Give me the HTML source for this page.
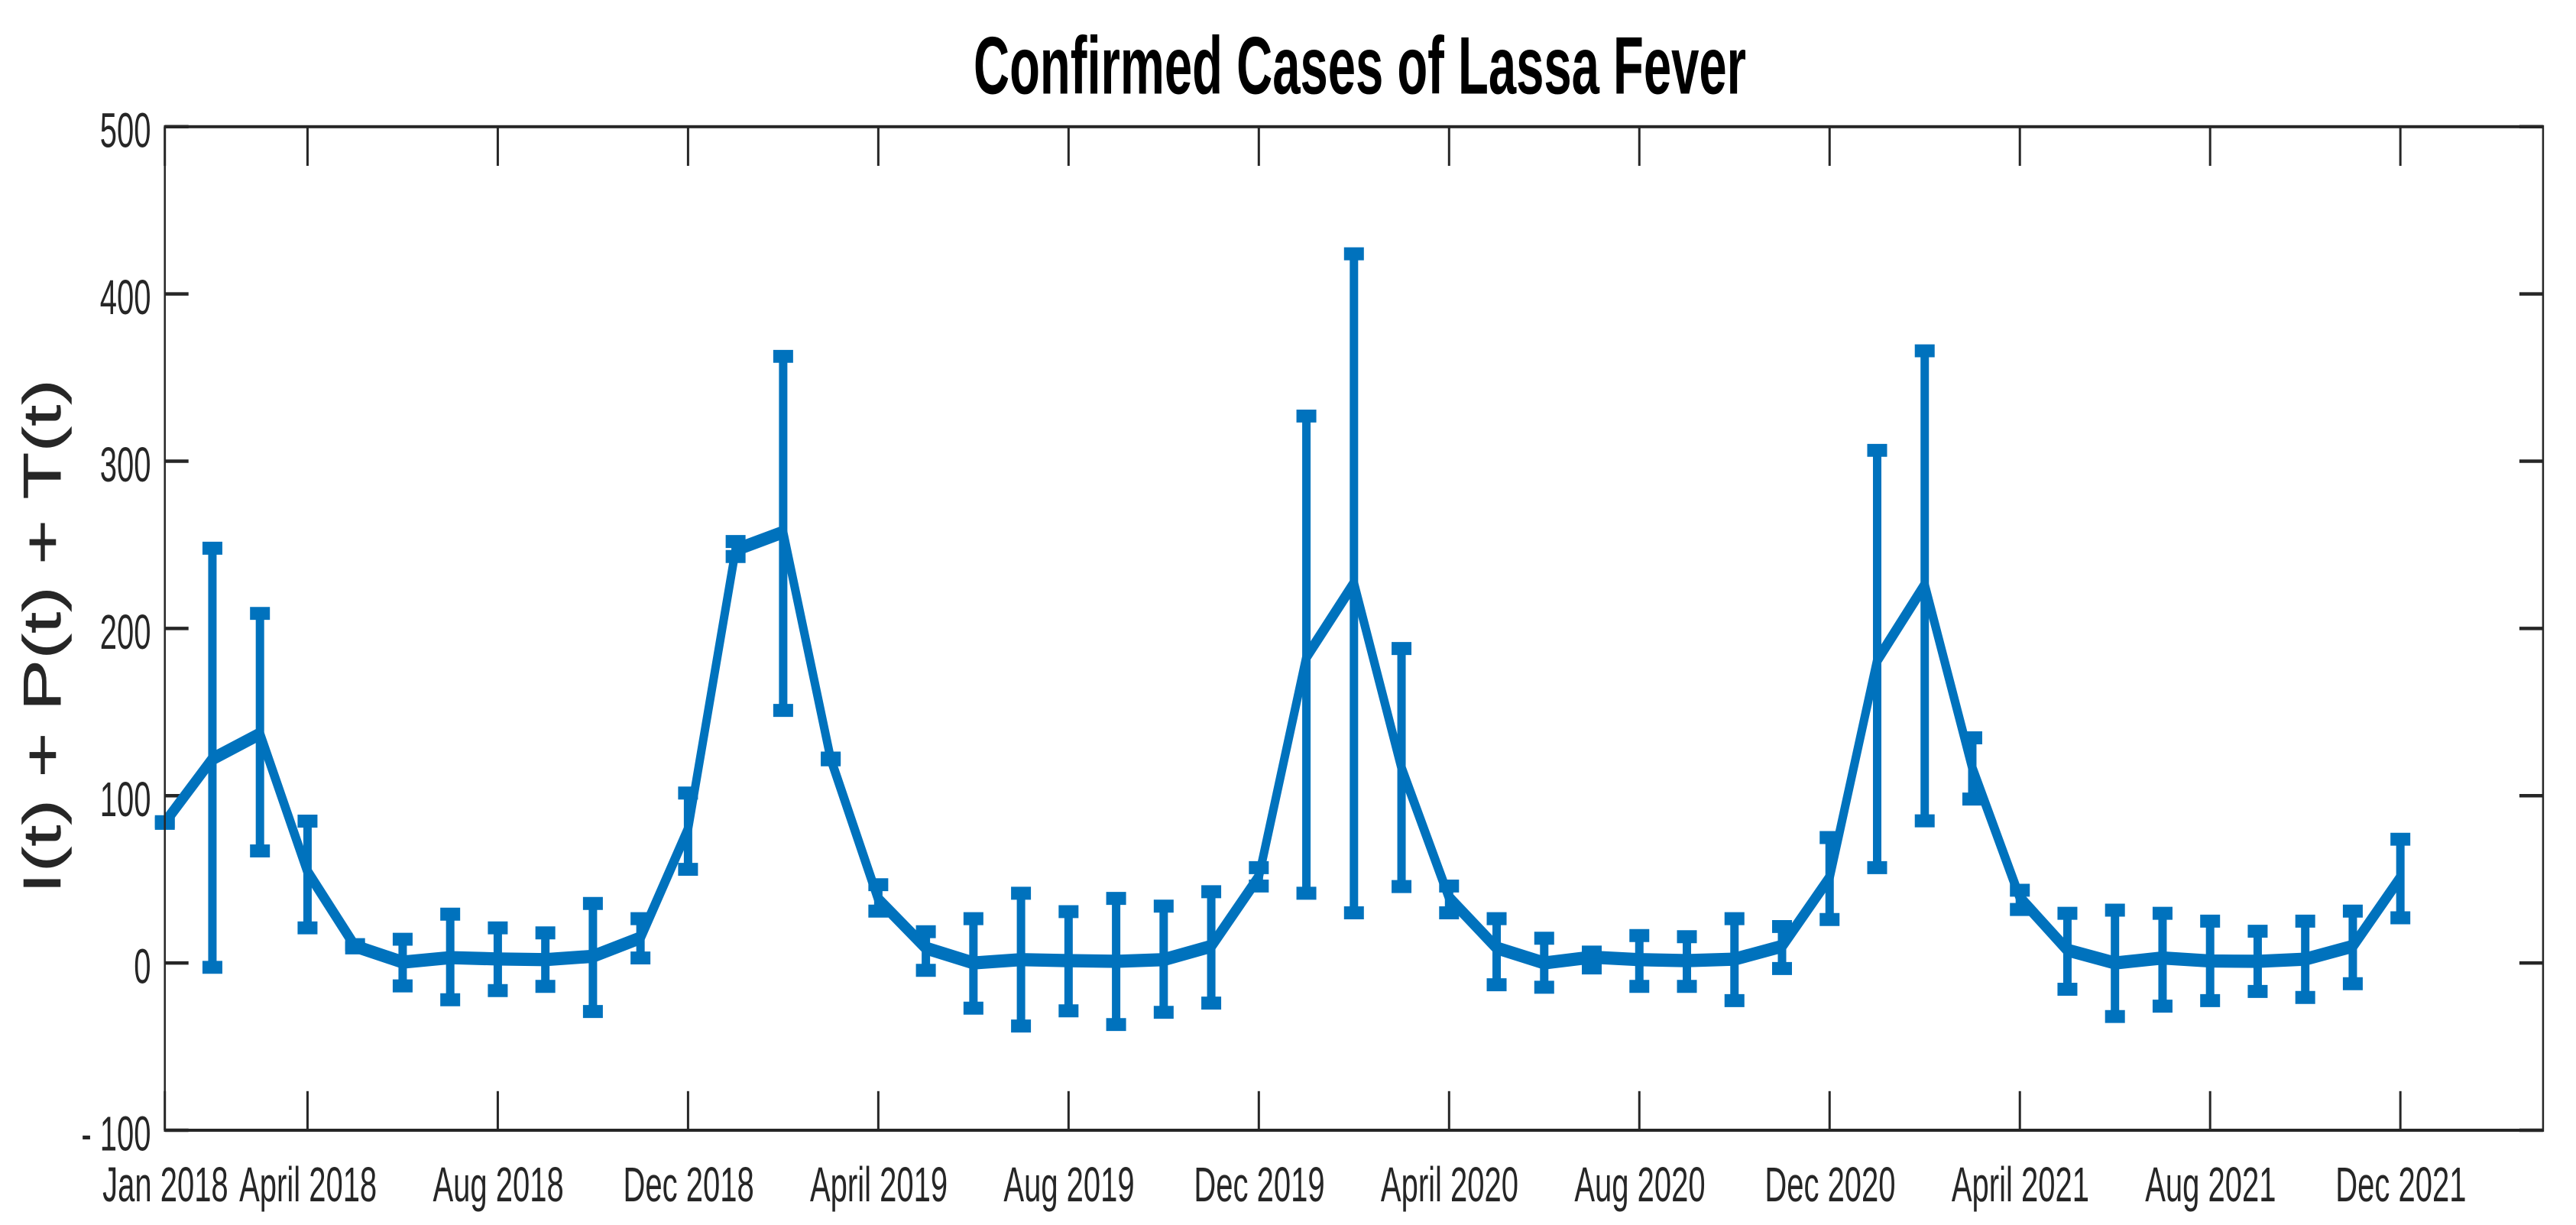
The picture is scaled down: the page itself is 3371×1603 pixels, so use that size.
<!DOCTYPE html>
<html lang="en">
<head>
<meta charset="utf-8">
<title>Confirmed Cases of Lassa Fever</title>
<style>
html,body{margin:0;padding:0;background:#fff;width:3371px;height:1603px;overflow:hidden}
svg{display:block}
text{font-family:"Liberation Sans",Arial,sans-serif;fill:#262626}
</style>
</head>
<body>
<svg id="chart" xmlns="http://www.w3.org/2000/svg" width="3371" height="1603" viewBox="0 0 3371 1001.875" preserveAspectRatio="none">
  <rect x="0" y="0" width="3371" height="1001.875" fill="#ffffff"/>
  <g id="ticks"></g>
  <g id="series"></g>
  <rect id="axes-box" fill="none" stroke="#262626" stroke-width="2.5"/>
  <text x="1779.5" y="76.7" text-anchor="middle" font-size="67" font-weight="700" textLength="1011" lengthAdjust="spacingAndGlyphs" style="fill:#000">Confirmed Cases of Lassa Fever</text>
  <text transform="translate(79,520.5) rotate(-90)" x="0" y="0" text-anchor="middle" font-size="70" textLength="421" lengthAdjust="spacingAndGlyphs" style="stroke:#262626;stroke-width:0.5">I(t) + P(t) + T(t)</text>
  <g id="labels"></g>
</svg>
<script>
// Chart data
const months = ["Jan 2018","Feb 2018","Mar 2018","Apr 2018","May 2018","Jun 2018","Jul 2018","Aug 2018","Sep 2018","Oct 2018","Nov 2018","Dec 2018",
  "Jan 2019","Feb 2019","Mar 2019","Apr 2019","May 2019","Jun 2019","Jul 2019","Aug 2019","Sep 2019","Oct 2019","Nov 2019","Dec 2019",
  "Jan 2020","Feb 2020","Mar 2020","Apr 2020","May 2020","Jun 2020","Jul 2020","Aug 2020","Sep 2020","Oct 2020","Nov 2020","Dec 2020",
  "Jan 2021","Feb 2021","Mar 2021","Apr 2021","May 2021","Jun 2021","Jul 2021","Aug 2021","Sep 2021","Oct 2021","Nov 2021","Dec 2021"];
const meanValues = [84,122,137,54.5,10,0.5,3.2,2.4,2,4,15,80,
  247,257.6,122,38,8.9,0,2,1.4,1,2,10,51.5,
  183,227,116.6,39,9,0,3.5,2,1.4,2.3,10,51,
  181,226,116.6,39,7.7,0,3,1.2,1,2.3,10,51];
const upperValues = [84.5,248,209,84.8,11,14.2,29.2,21,18,35.6,26.5,101.6,
  252,362.7,122.5,46.8,18.7,26.5,41.7,30.7,38.6,34,42.6,57,
  327,424,188,46,26.5,14.8,6.5,16.4,15.7,26.5,21.8,75,
  306.5,366,134.6,43.5,29.7,31.6,29.7,25,19,25,31,74];
const lowerValues = [83.5,-2.6,67,21,9,-13.7,-22,-16.5,-14,-29,3,56,
  243,151,121.5,31,-4.4,-27,-37.7,-28.6,-36.8,-29.5,-24,46,
  41.7,30,45.7,30,-13,-14.5,-3,-14,-14,-22.5,-3.3,26,
  57,85,98,32,-15.7,-32,-25.8,-22.5,-17,-20.6,-12.4,27];
const yTickValues = [-100,0,100,200,300,400,500];
const yTickLabels = ["- 100","0","100","200","300","400","500"];
const xTickMonths = [0,3,7,11,15,19,23,27,31,35,39,43,47];
const xTickLabels = ["Jan 2018","April 2018","Aug 2018","Dec 2018","April 2019","Aug 2019","Dec 2019","April 2020","Aug 2020","Dec 2020","April 2021","Aug 2021","Dec 2021"];
const xDomain = [0,50];
const yDomain = [-100,500];

// Layout (the viewBox is stretched vertically by a factor of 1.6)
const STRETCH = 1.6;
const plotLeft = 215.7, plotRight = 3327.9;
const plotTop = 165.8 / STRETCH, plotBottom = 1479 / STRETCH;
const xScale = m => plotLeft + (m - xDomain[0]) / (xDomain[1] - xDomain[0]) * (plotRight - plotLeft);
const yScale = v => plotBottom - (v - yDomain[0]) / (yDomain[1] - yDomain[0]) * (plotBottom - plotTop);

const NS = "http://www.w3.org/2000/svg";
const SERIES_COLOR = "#0072BD";
function make(tag, parent, attrs) {
  const el = document.createElementNS(NS, tag);
  for (const k in attrs) el.setAttribute(k, attrs[k]);
  parent.appendChild(el);
  return el;
}

const box = document.getElementById("axes-box");
box.setAttribute("x", plotLeft);
box.setAttribute("y", plotTop);
box.setAttribute("width", plotRight - plotLeft);
box.setAttribute("height", plotBottom - plotTop);

const tickGroup = document.getElementById("ticks");
const labelGroup = document.getElementById("labels");

// Y axis ticks and labels
yTickValues.forEach((v, i) => {
  const y = yScale(v);
  const left = make("line", tickGroup, {x1: plotLeft, x2: plotLeft + 31, y1: y, y2: y, stroke: "#262626", "stroke-width": 2.8});
  
  
  const right = make("line", tickGroup, {x1: plotRight - 31, x2: plotRight, y1: y, y2: y, stroke: "#262626", "stroke-width": 2.8});
  
  
  const t = make("text", labelGroup, {x: 197.5, y: y + 26.5 / STRETCH, "text-anchor": "end", "font-size": 40});
  t.textContent = yTickLabels[i];
  
  
});

// X axis ticks and labels
xTickMonths.forEach((m, i) => {
  const x = xScale(m);
  const bottom = make("line", tickGroup, {x1: x, x2: x, y1: plotBottom, y2: plotBottom - 32, stroke: "#262626", "stroke-width": 3});
  
  
  const top = make("line", tickGroup, {x1: x, x2: x, y1: plotTop, y2: plotTop + 32, stroke: "#262626", "stroke-width": 3});
  
  
  const t = make("text", labelGroup, {x: x + 0.7, y: 1572 / STRETCH, "text-anchor": "middle", "font-size": 40});
  t.textContent = xTickLabels[i];
  
  
});

// Series: mean line and error bars
const seriesGroup = document.getElementById("series");
const points = meanValues.map((v, i) => xScale(i).toFixed(2) + "," + yScale(v).toFixed(2)).join(" ");
const meanLine = make("polyline", seriesGroup, {points: points, fill: "none", stroke: SERIES_COLOR, "stroke-width": 10.8, "stroke-linejoin": "miter", "stroke-miterlimit": 4});



months.forEach((label, i) => {
  const x = xScale(i);
  const stem = make("line", seriesGroup, {x1: x, x2: x, y1: yScale(upperValues[i]), y2: yScale(lowerValues[i]), stroke: SERIES_COLOR, "stroke-width": 11});
  
  
  const capHi = make("line", seriesGroup, {x1: x - 13, x2: x + 13, y1: yScale(upperValues[i]), y2: yScale(upperValues[i]), stroke: SERIES_COLOR, "stroke-width": 10.6});
  
  
  const capLo = make("line", seriesGroup, {x1: x - 13, x2: x + 13, y1: yScale(lowerValues[i]), y2: yScale(lowerValues[i]), stroke: SERIES_COLOR, "stroke-width": 10.6});
  
  
});
</script>
</body>
</html>
